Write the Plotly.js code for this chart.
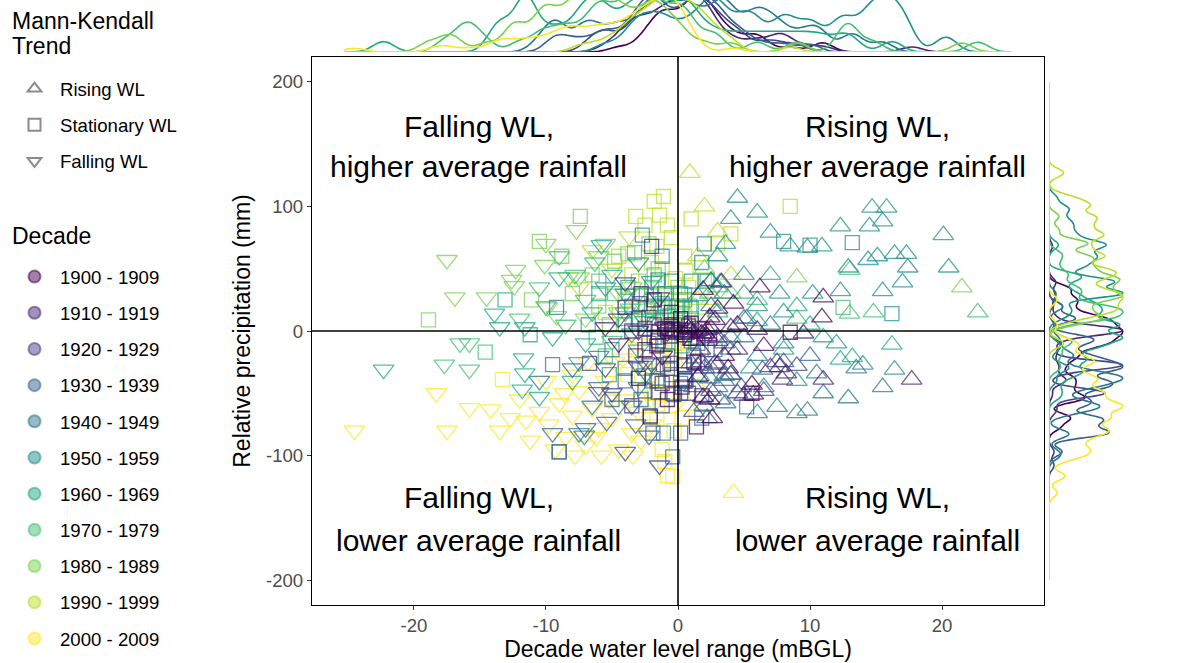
<!DOCTYPE html>
<html><head><meta charset="utf-8">
<script src="https://cdn.plot.ly/plotly-3.0.1.min.js"></script>
<style>body{margin:0;background:#fff;} #chart{width:1183px;height:663px;}</style>
</head><body><div id="chart"></div>
<script>
const decades = ['1900 - 1909','1910 - 1919','1920 - 1929','1930 - 1939','1940 - 1949','1950 - 1959','1960 - 1969','1970 - 1979','1980 - 1989','1990 - 1999','2000 - 2009'];
const decadeColors = ['#440154','#482576','#414487','#35608D','#2A788E','#21908C','#22A884','#43BF71','#7AD151','#BBDF27','#FDE725'];
const trendNames = ['Rising WL','Stationary WL','Falling WL'];
const trendCodes = ['R','S','F'];
const xTicks = [-20,-10,0,10,20];
const yTicks = [-200,-100,0,100,200];
const quadrantLabels = [['Falling WL,','higher average rainfall'],['Rising WL,','higher average rainfall'],['Falling WL,','lower average rainfall'],['Rising WL,','lower average rainfall']];

// ---- data per decade: x = decade water level range (mBGL), y = relative precipitation (mm), t = Mann-Kendall trend (R/S/F)
const x1900 = [2.4,2.8,1.9,6.2,11,10.9,1.5,1.9,2.4,5.6,3.5,4.5,0.8,3,1.2,6.5, 5.6,8.5,-2.1,1.4,0.9,-1,-0.8,-3,-0.5,1.2,-1.6, -1.2,-4.5, 0.5,-0.5,1.8,-1.5,0.2,2.2,-0.8,1, -2.5,3.8,0.3,-1.8,4.2,2.6];
const y1900 = [11,9,33,35,27,11,-37,-53,-55,-43,-20,5,2,18,-8,-12, -50,-1,-69,-77,-6,2,-55,-38,15,-25,-12, -20,-10, -3,5,-2,-8,10,-4,0,6, -15,-30,-45,25,22,-70];
const t1900 = 'RRRRRRRRRRRRRRRRSSSSSSSSSSSFFSSRSSRSSSRSSRR';

const x1910 = [17.7,11,7,7.9,5.7,1.7,7.7,8.2,3.3,1,2,4,0.5,1.5,3,6,2.5,9.5, -2,-4,-2.2,-1.2,2.4,-0.3,-1.5,0.8,-2.5,-0.6,-3.5, -4,-1.4,-0.8,-3,-5.5, 0.2,-0.4,1.2,0.7,-1,2.2,-0.2,1.6, -3.2,1.8,4.5,-2.8,0.6,-4.5];
const y1910 = [-39,-39,-29,-39,-51,-15,-29,-34,39,1,-2,3,-3,0,-8,1,2,-2, 68,19,11,-42,-6,1,-1,4,2,-4,0, 39,27,-1,0,3, 1,2,-1,0,3,1,-1,2, -20,-25,-15,30,-40,10];
const t1910 = 'RRRRRRRRRRRRRRRRRRSSSSSSSSSSSFFFFFSSRSFRSSSRRSSF';

const x1920 = [3,4.5,2,6.5,1,9,5,3.5,7.5,2.5, -6.7,-2.9,-1.1,-0.4,0.5,-2.5,-1.8,-0.8, -4,-1.4,-5,-3,-2,-6, 0.5,-0.6,1.5,-1.5,0.8,2.8,-0.3,1.8, -3.5,1.2,4,-2.2,2.2,-5.5];
const y1920 = [-27,-50,-30,-48,-26,-28,-52,-10,-25,-48, -26,22,-27,-50,-28,-48,5,-30, -97,-108,-50,-28,-26,-49, -27,-26,-28,-49,-50,-26,-51,-52, -60,-65,-35,-10,-15,-30];
const t1920 = 'RRRRRRRRRRSSSSSSSSFFFFFFSSRSSRSSSRRSSF';

const x1930 = [6.4,3.5,4,8,2.2,1.2,5,2.5,10,3, -1.9,0.2,-2.1,-9,-4,-0.5,1.5,-3,-1.2, -5.4,-2.2,-7,-6,-3.5,-8,-9.5, 0.5,-0.8,1.5,-1.8,0.2,2.5,-2.5,1, -5,3.2,-1.5,1.8,-3.2,4.8];
const y1930 = [-31,-40,-15,-25,-70,-45,10,20,-20,-5, -82,-82,-68,-97,-40,-30,-10,10,-60, -73,-84,-78,-45,-60,-30,-82, -35,-20,-25,-5,-50,-30,-25,-8, -55,-55,-40,-70,-75,-45];
const t1930 = 'RRRRRRRRRRSSSSSSSSSFFFFFFFSSSSSRFSSRSSFR';

const x1940 = [15.5,12.9,9,9.8,7.5,6,10.5,11,4,6,8,3,2,5,13.5,3.5,7, -9.2,-9.5,-9,-0.4,-1.1,5.2,-2,0.5,-5,-1, -7.5,-7.1,-4.5,-6,-3,-10.5, 0.5,-0.5,1.6,-1.6,0.2,2.4,-2.4,3.5, -4,6.5,-2.8,1.2,-6.5,3.6];
const y1940 = [-45,-54,-66,-64,-61,-66,-34,-50,-35,-20,-10,-45,-60,-5,-30,30,5, 19,-27,-97,-101,-82,-61,-40,-40,-15,20, -82,-84,-60,-20,-45,-40, -38,-35,-36,-40,-42,-38,-34,-36, -30,-45,-55,-20,-60,-58];
const t1940 = 'RRRRRRRRRRRRRRRRRSSSSSSSSSSFFFFFFSSRSSRFRSRSSFR';

const x1950 = [4.5,14.7,15.8,12.3,14.5,15.5,20.1,10.9,8.5,9.8,7,16.4,17.3,15.1,14.4,17.4,12.9,17,15.5,12.3,16.4,14,10.2,7.7,5,3,6,4,2.5,8,5.5,9,12,20.5,6, 13.2,8,10,16.2,-2.7,1,-1,2, -2,-4,-3, 0.5,-0.5,1.5,-1.5,0.2,2.5,-2.4,3.2, 3.6,-3.5,1.8,-1.2,5.2,-5.5,2.8];
const y1950 = [107,99,99,84,84,88,77,68,68,67,79,62,62,60,57,51,51,39,32,32,-31,-27,30,30,45,60,20,90,40,15,-30,-40,-10,51,95, 71,72,69,14,77,40,30,70, 40,30,55, 29,40,28,41,30,40,29,39, 70,20,55,60,10,35,-15];
const t1950 = 'RRRRRRRRRRRRRRRRRRRRRRRRRRRRRRRRRRRSSSSSSSSFFFSSRSSRSRRSSSRFS';

const x1960 = [16.2,13.2,12.3,10,8,6,4,5,3,9,7,11, -13.1,-11.2,-4,-2,-1,0.5,-6, -13.9,-13.5,-5.8,-9,-11.6,-11.7,-11.6,-11.8,-10.5,-22.3,-8,-6.5,-7,-3,-5,-9.5, 0.5,-0.6,-1.5,-2.5,1,-3.5,0.3,-1.2, -7.5,-5.2,-3.8,2.2,-6.8,-2.5,1.5];
const y1960 = [-11,-21,-23,5,-15,8,-5,30,15,20,45,-5, 25,-3,5,20,-10,25,30, 14,3,69,43,3,-22,-34,-47,-53,-31,-40,15,-10,-15,45,-5, 5,12,-5,8,18,-2,-12,22, -25,-35,35,40,5,-30,-5];
const t1960 = 'RRRRRRRRRRRRSSSSSSSFFFFFFFFFFFFFFFFSSSFSFSSFSSSSSS';

const x1970 = [22.7,13,14.8,13,6,3,9, 12.5,-3.3,-14.6,-2,-4,0,-6,1, -16.5,-15.8,-17.7,-15.8,-10,-7,-8.5,-5,-3,-12,-9,-6.3,-4, 0.3,-0.8,-1.8,-2.6,0.9,-3.6,-0.2,-1.3, -5.5,-7.8,-4.8,-1.8,2.4,-6.2,-10.5];
const y1970 = [15,49,15,14,25,35,10, 19,63,-17,35,10,20,40,10, -10,-10,-27,-31,20,25,5,-8,30,10,60,55,15, 18,12,19,10,20,18,9,15, -20,45,30,45,30,-5,35];
const t1970 = 'RRRRRRRSSSSSSSSFFFFFFFFFFFFFSSSFSFSSSFSSRSF';

const x1980 = [21.5,9,4,2, -18.9,-10.5,-7.4,-11.1,-4.8,-3,-1.5,-6,0,-8, -17.5,-16.9,-14.5,-12.3,-12.4,-12.6,-7.7,-10.1,-9.9,-7.5,-8.3,-6,-4.5,-10,-7, -0.5,-1.5,-2.5,0.5,-3.5,-1,-4.5,-2, -5.5,-8.8,-3.8,-2.2,-6.5,-9.2,-5.2];
const y1980 = [35,43,30,50, 9,72,92,25,56,40,50,20,35,30, 57,27,27,49,36,41,81,53,19,43,43,60,30,70,10, 25,40,18,12,35,8,15,28, 70,60,62,70,45,12,5];
const t1980 = 'RRRRSSSSSSSSSSFFFFFFFFFFFFFFFSSFSFSFSFSSSSFS';

const x1990 = [0.9,2,3,1.5,4,2.5, -1.8,-1.1,-1.4,8.5,-2.5,-0.5,1,0.5,-2,-3.5,-1,0.2,-4,2,3,-0.3,4, -3.7,-6.5,-5,-3,-7.5, 0.3,-0.5,-1.5,0.8,-2.5,1.5,-0.2,-1.2, -1.6,-0.8,-3.2,0.6,-4.5,-2.8,1.8,-5.5];
const y1990 = [127,100,80,60,45,25, 104,108,93,100,85,75,90,60,55,45,30,15,25,40,70,-10,78, 76,65,50,20,35, 20,30,18,35,12,25,42,50, 68,85,92,48,60,30,8,15];
const t1990 = 'RRRRRRSSSSSSSSSSSSSSSSSFFFFFSSSSFRSSSSSSSSSS';

const x2000 = [4.2,1.5,0.8, -13.3,-0.8,-1.2,-0.5,-1.8,-0.3,-2.2,0.3,-0.6,-1,-3.2,-0.4,0.5, -24.5,-17.5,-18.3,-14.2,-12.7,-11.2,-12,-10.5,-9.8,-9,-8.5,-8,-7.5,-7,-6.5,-6,-5.5,-5,-4.5,-4,-3.5,-3,-2.5,-2,-1.5,-10,-8,-11.5,-6.8,-4.2,-9.3,-13.5,-15.8,-7.8,-2.8, 0.3,-0.4,-1.2,-2.2,0.8,-0.8,-1.8,-3,0.5,-0.3, -3.8,-5.2,-2.4,-6.2,-0.9,-4.8,-1.6,-8.6,-3.4,-5.8];
const y2000 = [-130,-45,-60, -39,-116,-95,-60,-50,-80,-35,-70,-20,-105,-15,-117,-5, -80,-80,-50,-63,-70,-88,-55,-65,-75,-58,-85,-68,-48,-92,-62,-78,-40,-70,-95,-55,-82,-65,-45,-75,-30,-40,-35,-72,-25,-22,-95,-80,-62,-100,-88, -10,-25,-12,-28,-20,-50,-58,-10,25,5, -35,-55,-60,-85,-40,-25,-70,-50,-100,-100];
const t2000 = 'RRRSSSSSSSSSSSSSFFFFFFFFFFFFFFFFFFFFFFFFFFFFFFFFFFFSSSFSSFFSSSFSFSFSFFF';

const allX = [x1900,x1910,x1920,x1930,x1940,x1950,x1960,x1970,x1980,x1990,x2000];
const allY = [y1900,y1910,y1920,y1930,y1940,y1950,y1960,y1970,y1980,y1990,y2000];
const allT = [t1900,t1910,t1920,t1930,t1940,t1950,t1960,t1970,t1980,t1990,t2000];

// ---- styles
const symbolOf = {R:'triangle-up-open', S:'square-open', F:'triangle-down-open'};
const sizeOf = {R:18, S:14, F:18};
const FONT = 'Arial, "Liberation Sans", sans-serif';

function rgba(hex, a){
  const n = parseInt(hex.slice(1),16);
  return 'rgba('+((n>>16)&255)+','+((n>>8)&255)+','+(n&255)+','+a+')';
}

const traces = [];
for (let i = decades.length-1; i >= 0; i--) {
  const codes = allT[i].split('');
  traces.push({
    type:'scatter', mode:'markers', x: allX[i], y: allY[i],
    xaxis:'x', yaxis:'y', showlegend:false, name: decades[i],
    marker:{symbol: codes.map(c=>symbolOf[c]), size: codes.map(c=>sizeOf[c]),
            color: decadeColors[i], opacity:0.75, line:{color: decadeColors[i], width:1.3}},
    hovertemplate: decades[i]+'<br>%{x}, %{y}<extra></extra>'
  });
}
// marginal densities (top: x; right: y)
for (let i = 0; i < decades.length; i++) {
  traces.push({
    type:'violin', orientation:'h', x: allX[i], y0: 0, xaxis:'x', yaxis:'y2',
    side:'positive', width: 2.2, scalemode:'width', spanmode:'manual', span:[-25.2,25.2],
    bandwidth: 0.8, points:false, box:{visible:false}, meanline:{visible:false},
    line:{color: decadeColors[i], width:1.6}, fillcolor:'rgba(0,0,0,0)',
    showlegend:false, hoverinfo:'skip', name: 'top '+decades[i]
  });
  traces.push({
    type:'violin', orientation:'v', y: allY[i], x0: 0, xaxis:'x3', yaxis:'y',
    side:'positive', width: 1.1, scalemode:'width', spanmode:'manual', span:[-200,200],
    bandwidth: 3.5, points:false, box:{visible:false}, meanline:{visible:false},
    line:{color: decadeColors[i], width:1.6}, fillcolor:'rgba(0,0,0,0)',
    showlegend:false, hoverinfo:'skip', name: 'right '+decades[i]
  });
}
// legend entries
trendNames.forEach((nm, k) => {
  traces.push({type:'scatter', mode:'markers', x:[null], y:[null], name: nm,
    legend:'legend', legendgroup:'trend'+k,
    marker:{symbol: symbolOf[trendCodes[k]], size: 17, color:'#8c8c8c', line:{color:'#8c8c8c', width:1}}});
});
decades.forEach((nm, i) => {
  traces.push({type:'scatter', mode:'markers', x:[null], y:[null], name: nm,
    legend:'legend2', legendgroup:'dec'+i,
    marker:{symbol:'circle', size: 15, color: rgba(decadeColors[i],0.5), line:{color: rgba(decadeColors[i],0.55), width:1}}});
});

const W = 1183, H = 663;
const annotations = [];
const qx = [-15.1, 15.1, -15.1, 15.1];
const qy = [[164,132],[164,132],[-134,-168],[-134,-168]];
quadrantLabels.forEach((lines, q) => {
  lines.forEach((txt, j) => {
    annotations.push({x: qx[q], y: qy[q][j], xref:'x', yref:'y', text: txt, showarrow:false,
      xanchor:'center', yanchor:'middle', font:{family:FONT, size:30, color:'#000'}});
  });
});
// legend titles
[['Mann-Kendall',21],['Trend',46],['Decade',236]].forEach(([txt, py]) => {
  annotations.push({x: 10/W, y: 1 - py/H, xref:'paper', yref:'paper', text: txt, showarrow:false,
    xanchor:'left', yanchor:'middle', font:{family:FONT, size:23, color:'#000'}});
});

const axisCommon = {showgrid:false, zeroline:false, showline:true, mirror:true, linecolor:'#000', linewidth:1.2,
  ticks:'outside', ticklen:4, tickcolor:'#333', tickwidth:1, automargin:false,
  tickfont:{size:18.6, color:'#4D4D4D', family:FONT}};

const layout = {
  width: W, height: H, margin:{l:0,r:0,t:0,b:0},
  paper_bgcolor:'#fff', plot_bgcolor:'#fff',
  font:{family:FONT, color:'#000'},
  violinmode:'overlay',
  xaxis:Object.assign({}, axisCommon, {domain:[312/W, 1044/W], anchor:'y', range:[-27.72,27.72],
    tickvals: xTicks, ticktext: xTicks.map(String),
    title:{text:'Decade water level range (mBGL)', font:{size:23, color:'#000', family:FONT}, standoff:4}}),
  yaxis:Object.assign({}, axisCommon, {domain:[(H-605)/H, (H-57)/H], anchor:'x', range:[-220,220],
    tickvals: yTicks, ticktext: yTicks.map(String),
    title:{text:'Relative precipitation (mm)', font:{size:23, color:'#000', family:FONT}, standoff:8}}),
  yaxis2:{domain:[(H-52)/H, 1], anchor:'x', range:[0,1], visible:false, fixedrange:true},
  xaxis3:{domain:[1049/W, 1], anchor:'y', range:[0,1], visible:false, fixedrange:true},
  shapes:[
    {type:'line', xref:'x domain', yref:'y', x0:0, x1:1, y0:0, y1:0, line:{color:'#000', width:1.6}, layer:'above'},
    {type:'line', xref:'x', yref:'y domain', x0:0, x1:0, y0:0, y1:1, line:{color:'#000', width:1.6}, layer:'above'}
  ],
  annotations: annotations,
  legend:{x:9/W, y:1-70/H, xanchor:'left', yanchor:'top', bgcolor:'rgba(0,0,0,0)',
    font:{size:18.6, family:FONT, color:'#000'}, tracegroupgap:9, itemsizing:'constant', itemwidth:41},
  legend2:{x:9/W, y:1-258/H, xanchor:'left', yanchor:'top', bgcolor:'rgba(0,0,0,0)',
    font:{size:18.6, family:FONT, color:'#000'}, tracegroupgap:9, itemsizing:'constant', itemwidth:41},
  showlegend:true
};

Plotly.newPlot('chart', traces, layout, {displayModeBar:false, responsive:false});
</script>
</body></html>
